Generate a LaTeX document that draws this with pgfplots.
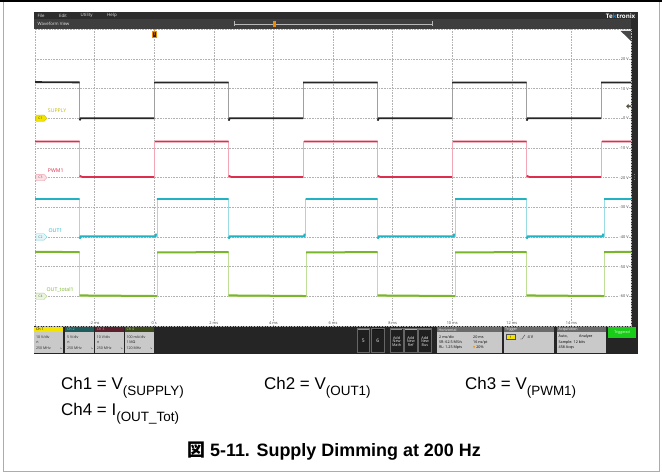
\documentclass[border=0pt]{standalone}
\usepackage{pgfplots}
\pgfplotsset{compat=1.18}
\usepackage{fontspec}
\setmainfont{Liberation Sans}
\newfontfamily\uifont{Open Sans}
\newfontfamily\cjk{Noto Sans CJK JP}
\newfontfamily\dejavu{DejaVu Sans}
\newcommand\ui[1]{\uifont\fontsize{#1}{#1}\selectfont}
\newcommand\sub[1]{\raisebox{-0.3em}{\fontsize{13.5}{13.5}\selectfont #1}}
\definecolor{trA}{HTML}{262626}\definecolor{trAl}{HTML}{A0A0A0}
\definecolor{trB}{HTML}{DC2F4E}\definecolor{trBl}{HTML}{F2A8B5}
\definecolor{trC}{HTML}{22B2C2}\definecolor{trCl}{HTML}{9ADCE4}
\definecolor{trD}{HTML}{7AB62C}\definecolor{trDl}{HTML}{C0DE98}
\definecolor{yel}{HTML}{F2E400}\definecolor{lblyel}{HTML}{C2BA00}
\definecolor{menu}{HTML}{2D2D2D}\definecolor{wvbar}{HTML}{3E3E3E}
\definecolor{strip}{HTML}{2A2A2A}\definecolor{botbar}{HTML}{252525}
\definecolor{panel}{HTML}{C9C9C9}\definecolor{phdr}{HTML}{6A6A6A}
\definecolor{hdrB}{HTML}{1E5C5C}\definecolor{hdrC}{HTML}{5C1F2C}\definecolor{hdrD}{HTML}{3C4A1C}
\definecolor{orng}{HTML}{F08A00}\definecolor{trig}{HTML}{18CC18}
\begin{document}
\begin{tikzpicture}[x=1bp,y=1bp]
\path[use as bounding box] (0,0) rectangle (662,473);
% ---------- background chrome (pixel coords, y down)
\begin{scope}[shift={(0,473)}, yscale=-1]
\draw[gray!65, line width=0.8bp] (3,1.5) rectangle (659,471);
\draw[black, line width=1.6bp] (0,1) -- (662,1);
\fill[menu] (34,12) rectangle (638,19.5);
\fill[wvbar] (34,19.5) rectangle (638,28.8);
\fill[white] (34,28.8) rectangle (631,326);
\fill[strip] (631,19.5) rectangle (638,326);
\fill[botbar] (34,326) rectangle (638,354);
\node[anchor=west, inner sep=0, text=gray!25, font=\ui{4.4}] at (37.5,15.8) {File};
\node[anchor=west, inner sep=0, text=gray!25, font=\ui{4.4}] at (59,15.8) {Edit};
\node[anchor=west, inner sep=0, text=gray!25, font=\ui{4.4}] at (80.5,15.8) {Utility};
\node[anchor=west, inner sep=0, text=gray!25, font=\ui{4.4}] at (107,15.8) {Help};
\node[anchor=east, inner sep=0, text=white, font=\ui{6.2}\bfseries] at (635.5,15.9) {Te{\color{cyan!70!blue}k}tronix};
\node[anchor=west, inner sep=0, text=gray!20, font=\ui{4.4}] at (37.5,24.2) {Waveform View};
\draw[gray!55, line width=0.5bp] (234,24) -- (433,24);
\draw[gray!55, line width=0.5bp] (234.5,21.5) -- (234.5,26.5) (432.5,21.5) -- (432.5,26.5);
\fill[orng] (273,21.3) rectangle (275.8,26.7);
\fill[gray!70] (634.5,174.5) circle (0.45) (634.5,177) circle (0.45) (634.5,179.5) circle (0.45);
\end{scope}
% ---------- waveform axis
\begin{axis}[at={(35bp,147bp)}, anchor=south west, scale only axis,
  width=596bp, height=296.7bp,
  xmin=-4, xmax=16, ymin=-70, ymax=30,
  axis line style={gray!60, line width=0.5bp, dash pattern=on 0.8bp off 0.8bp},
  xtick={-2,0,2,4,6,8,10,12,14},
  xticklabels={-2 ms,0 s,2 ms,4 ms,6 ms,8 ms,10 ms,12 ms,14 ms},
  ytick={-60,-50,-40,-30,-20,-10,0,10,20},
  yticklabels={-60 V,-50 V,-40 V,-30 V,-20 V,-10 V,0 V,10 V,20 V},
  major tick length=0,
  grid=major,
  major grid style={gray!60, line width=0.5bp, dash pattern=on 0.8bp off 0.8bp},
  xticklabel style={font=\ui{3.9}, text=black!75, anchor=south, fill=white, inner sep=0.6bp, yshift=0.8bp},
  yticklabel pos=right,
  yticklabel style={font=\ui{3.9}, text=black!75, anchor=east, fill=white, inner sep=0.6bp, xshift=-1.5bp},
  clip=true]
% Ch1 SUPPLY (black)
\addplot[trAl, line width=0.6bp] coordinates {(-4,12.1)(-2.5,12.1)(-2.5,0)(0,0)(0,12.1)(2.5,12.1)(2.5,0)(5,0)(5,12.1)(7.5,12.1)(7.5,0)(10,0)(10,12.1)(12.5,12.1)(12.5,0)(15,0)(15,12.1)(16,12.1)};
\addplot[trA, line width=1.8bp, unbounded coords=jump] coordinates {
 (-4,12.2)(-2.5,12.1)(-2.5,nan)
 (-2.5,-0.7)(-2.47,0)(0,0)(0,nan)
 (0,12.1)(2.5,12.1)(2.5,nan)
 (2.5,-0.8)(2.53,0)(5,0)(5,nan)
 (5,12.1)(7.5,12.1)(7.5,nan)
 (7.5,-0.8)(7.53,0)(10,0)(10,nan)
 (10,12.1)(12.5,12.1)(12.5,nan)
 (12.5,-0.8)(12.53,0)(15,0)(15,nan)
 (15,12.1)(16,12.1)};
% Ch3 PWM1 (red)
\addplot[trBl, line width=0.6bp] coordinates {(-4,-7.8)(-2.5,-7.8)(-2.5,-19.8)(0,-19.8)(0,-7.8)(2.5,-7.8)(2.5,-19.8)(5,-19.8)(5,-7.8)(7.5,-7.8)(7.5,-19.8)(10,-19.8)(10,-7.8)(12.5,-7.8)(12.5,-19.8)(15,-19.8)(15,-7.8)(16,-7.8)};
\addplot[trB, line width=1.8bp, unbounded coords=jump] coordinates {
 (-4,-7.8)(-2.5,-7.8)(-2.5,nan)
 (-2.5,-19.4)(-2.4,-19.8)(0,-19.8)(0,nan)
 (0.03,-7.8)(2.5,-7.8)(2.5,nan)
 (2.5,-19.4)(2.6,-19.8)(5,-19.8)(5,nan)
 (5.03,-7.8)(7.5,-7.8)(7.5,nan)
 (7.5,-19.4)(7.6,-19.8)(10,-19.8)(10,nan)
 (10.03,-7.8)(12.5,-7.8)(12.5,nan)
 (12.5,-19.4)(12.6,-19.8)(15,-19.8)(15,nan)
 (15.03,-7.8)(16,-7.8)};
% Ch2 OUT1 (cyan)
\addplot[trCl, line width=0.6bp] coordinates {(-4,-27.2)(-2.5,-27.2)(-2.5,-39.8)(0.09,-39.8)(0.09,-27.2)(2.5,-27.2)(2.5,-39.8)(5.08,-39.8)(5.08,-27.2)(7.5,-27.2)(7.5,-39.8)(10.1,-39.8)(10.1,-27.2)(12.5,-27.2)(12.5,-39.8)(15.1,-39.8)(15.1,-27.2)(16,-27.2)};
\addplot[trC, line width=1.8bp, unbounded coords=jump] coordinates {
 (-4,-27.2)(-2.5,-27.2)(-2.5,nan)
 (-2.5,-40.6)(-2.47,-39.8)(0.04,-39.8)(0.05,-39.2)(0.09,-39.2)(0.09,nan)
 (0.09,-27.2)(2.5,-27.2)(2.5,nan)
 (2.5,-40.6)(2.53,-39.8)(5.03,-39.8)(5.04,-39.2)(5.08,-39.2)(5.08,nan)
 (5.08,-27.2)(7.5,-27.2)(7.5,nan)
 (7.5,-40.6)(7.53,-39.8)(10.05,-39.8)(10.06,-39.2)(10.1,-39.2)(10.1,nan)
 (10.1,-27.2)(12.5,-27.2)(12.5,nan)
 (12.5,-40.6)(12.53,-39.8)(15.05,-39.8)(15.06,-39.2)(15.1,-39.2)(15.1,nan)
 (15.1,-27.2)(16,-27.2)};
% Ch4 OUT_total1 (green)
\addplot[trDl, line width=0.6bp] coordinates {(-4,-45.1)(-2.5,-45.1)(-2.5,-59.9)(0.1,-59.9)(0.1,-45.1)(2.5,-45.1)(2.5,-59.9)(5.1,-59.9)(5.1,-45.1)(7.5,-45.1)(7.5,-59.9)(10.1,-59.9)(10.1,-45.1)(12.5,-45.1)(12.5,-59.9)(15.1,-59.9)(15.1,-45.1)(16,-45.1)};
\addplot[trD, line width=2bp, unbounded coords=jump] coordinates {
 (-4,-45.0)(-2.5,-45.1)(-2.5,nan)
 (-2.5,-59.7)(0.1,-59.9)(0.1,nan)
 (0.1,-45.2)(2.5,-45.1)(2.5,nan)
 (2.5,-59.7)(5.1,-59.9)(5.1,nan)
 (5.1,-45.2)(7.5,-45.1)(7.5,nan)
 (7.5,-59.7)(10.1,-59.9)(10.1,nan)
 (10.1,-45.2)(12.5,-45.1)(12.5,nan)
 (12.5,-59.7)(15.1,-59.9)(15.1,nan)
 (15.1,-45.1)(16,-45.0)};
\end{axis}
% ---------- overlays (pixel coords, y down)
\begin{scope}[shift={(0,473)}, yscale=-1]
% trigger position marker
\fill[orng] (153,29.2) -- (156,29.2) -- (154.5,31) -- cycle;
\filldraw[fill=black!85, draw=orng, line width=0.5bp] (152.3,31.3) rectangle (156.7,37.6);
\node[text=orng, font=\ui{3.6}\bfseries, inner sep=0] at (154.5,34.5) {T};
% top-right corner triangle
\fill[black!72] (620.5,30.8) -- (630.8,30.8) -- (630.8,41) -- cycle;
% trigger level arrow
\fill[black!75!yellow] (626.2,106.3) -- (628.6,103.8) -- (628.6,105.4) -- (630.8,105.4) -- (630.8,107.2) -- (628.6,107.2) -- (628.6,108.8) -- cycle;
% channel tags
\filldraw[fill=yel, draw=yel!80!black, line width=0.3bp] (36,115.1) -- (44,115.1) -- (47,118.3) -- (44,121.5) -- (36,121.5) -- cycle;
\node[font=\ui{3.4}, inner sep=0, text=black!80] at (40.5,118.3) {C1};
\filldraw[fill=trB!15, draw=trB!45, line width=0.4bp] (36,174.4) -- (44,174.4) -- (47,177.6) -- (44,180.8) -- (36,180.8) -- cycle;
\node[font=\ui{3.4}, inner sep=0, text=black!60] at (40.5,177.6) {C3};
\filldraw[fill=trC!12, draw=trC!60, line width=0.4bp] (36,233.8) -- (44,233.8) -- (47,237) -- (44,240.2) -- (36,240.2) -- cycle;
\node[font=\ui{3.4}, inner sep=0, text=black!60] at (40.5,237) {C2};
\filldraw[fill=trD!15, draw=trD!60, line width=0.4bp] (36,293.1) -- (44,293.1) -- (47,296.3) -- (44,299.5) -- (36,299.5) -- cycle;
\node[font=\ui{3.4}, inner sep=0, text=black!60] at (40.5,296.3) {C4};
% channel names
\node[anchor=west, inner sep=0, text=lblyel, font=\ui{5.2}] at (47.8,110.8) {SUPPLY};
\node[anchor=west, inner sep=0, text=trB, font=\ui{5.2}] at (47.8,170.8) {PWM1};
\node[anchor=west, inner sep=0, text=trC, font=\ui{5.2}] at (48.5,230.2) {OUT1};
\node[anchor=west, inner sep=0, text=trD, font=\ui{5.2}] at (46.5,290.2) {OUT\_total1};
% channel badges
\foreach \x/\h/\t/\tc/\a/\b/\c in {
  34.3/yel/Ch 1/black/10 V\slash div/{\dejavu ∩}/250 MHz,
  65.3/hdrB/Ch 2/trC!70!white/5 V\slash div/{\dejavu ∩}/250 MHz,
  95.0/hdrC/Ch 3/trB!60!white/10 V\slash div/{\dejavu ∩}/250 MHz,
  124.7/hdrD/Ch 4/trD!70!white/100 mA\slash div/1 M{\dejavu Ω}/120 MHz}{
  \fill[\h] (\x,326.7) rectangle ({\x+28.8},332.4);
  \fill[panel] (\x,332.4) rectangle ({\x+28.8},352.8);
  \node[anchor=west, inner sep=0, text=\tc, font=\ui{3.7}] at ({\x+1.6},329.6) {\t};
  \node[anchor=west, inner sep=0, text=black!85, font=\ui{3.6}] at ({\x+1.6},336.8) {\a};
  \node[anchor=west, inner sep=0, text=black!85, font=\ui{3.6}] at ({\x+1.6},342.2) {\b};
  \node[anchor=west, inner sep=0, text=black!85, font=\ui{3.6}] at ({\x+1.6},348.2) {\c};
  \node[anchor=east, inner sep=0, text=black!85, font=\dejavu\fontsize{2.8}{2.8}\selectfont] at ({\x+27.8},348.2) {↘};
}
% buttons 5, 6
\filldraw[fill=black!88, draw=black!60, line width=0.4bp] (357,328) rectangle (369.5,352.5);
\fill[brown!70!orange] (358,328.6) rectangle (368.5,330);
\node[text=gray!15, font=\ui{5}, inner sep=0] at (363.2,341.2) {5};
\filldraw[fill=black!88, draw=black!60, line width=0.4bp] (371.5,328) rectangle (384,352.5);
\fill[blue!45!black] (372.5,328.6) rectangle (383,330);
\node[text=gray!15, font=\ui{5}, inner sep=0] at (377.7,341.2) {6};
% add new buttons
\foreach \x/\col/\w in {390/brown!80!orange/Math, 404.2/gray!65/Ref, 418.4/violet!70!white/Bus}{
  \filldraw[fill=black!88, draw=black!60, line width=0.4bp] (\x,328) rectangle ({\x+13.2},352.5);
  \fill[\col] ({\x+0.8},328.6) rectangle ({\x+12.4},330);
  \node[text=gray!20, font=\ui{3.8}, inner sep=0, align=center] at ({\x+6.6},341.5) {Add\\[-0.4bp]New\\[-0.4bp]\w};
}
% Horizontal panel
\fill[phdr] (437,327) rectangle (501.5,332.3);
\fill[panel] (437,332.3) rectangle (501.5,352.6);
\node[anchor=west, inner sep=0, text=gray!15, font=\ui{3.7}] at (438.5,329.7) {Horizontal};
\node[anchor=west, inner sep=0, font=\ui{3.7}] at (439,336.8) {2 ms/div};
\node[anchor=west, inner sep=0, font=\ui{3.7}] at (473,336.8) {20 ms};
\node[anchor=west, inner sep=0, font=\ui{3.7}] at (439,342.2) {SR: 62.5 MS/s};
\node[anchor=west, inner sep=0, font=\ui{3.7}] at (473,342.2) {16 ns/pt};
\node[anchor=west, inner sep=0, font=\ui{3.7}] at (439,347.8) {RL: 1.25 Mpts};
\node[anchor=west, inner sep=0, font=\ui{3.7}] at (473,347.8) {{\color{orng}\dejavu\fontsize{2.8}{2.8}\selectfont ▼} 20\%};
% Trigger panel
\fill[phdr] (503.5,327) rectangle (553.5,332.3);
\fill[panel] (503.5,332.3) rectangle (553.5,352.6);
\node[anchor=west, inner sep=0, text=gray!15, font=\ui{3.7}] at (505,329.7) {Trigger};
\filldraw[fill=yel, draw=black!70, line width=0.3bp] (506.5,334.6) rectangle (515,339.2);
\node[inner sep=0, font=\ui{3.2}] at (510.7,336.9) {1};
\draw[gray!60!black, line width=0.4bp] (520,339) -- (522,339) -- (525,334.8);
\node[anchor=west, inner sep=0, font=\ui{3.9}] at (527.5,336.9) {4 V};
% Acquisition panel
\fill[phdr] (557,327) rectangle (605.5,332.3);
\fill[panel] (557,332.3) rectangle (605.5,352.6);
\node[anchor=west, inner sep=0, text=gray!15, font=\ui{3.7}] at (558.5,329.7) {Acquisition};
\node[anchor=west, inner sep=0, font=\ui{3.7}] at (558.5,336.8) {Auto,};
\node[anchor=west, inner sep=0, font=\ui{3.7}] at (579,336.8) {Analyze};
\node[anchor=west, inner sep=0, font=\ui{3.7}] at (558.5,342.2) {Sample: 12 bits};
\node[anchor=west, inner sep=0, font=\ui{3.7}] at (558.5,347.8) {458 Acqs};
% Triggered
\fill[trig] (608,327.2) rectangle (636,337.6);
\node[inner sep=0, text=white, font=\ui{3.5}] at (622,332.4) {Triggered};
% ---------- caption text
\node[anchor=base west, inner sep=0, font=\fontsize{17}{17}\selectfont] at (61,390) {Ch1 = V\sub{(SUPPLY)}};
\node[anchor=base west, inner sep=0, font=\fontsize{17}{17}\selectfont] at (264,390) {Ch2 = V\sub{(OUT1)}};
\node[anchor=base west, inner sep=0, font=\fontsize{17}{17}\selectfont] at (465,390) {Ch3 = V\sub{(PWM1)}};
\node[anchor=base west, inner sep=0, font=\fontsize{17}{17}\selectfont] at (61,416) {Ch4 = I\sub{(OUT\_Tot)}};
\node[anchor=base, inner sep=0, font=\bfseries\fontsize{18}{18}\selectfont] at (334,457) {{\cjk\bfseries 図} 5-11. Supply Dimming at 200 Hz};
\end{scope}
\end{tikzpicture}
\end{document}
